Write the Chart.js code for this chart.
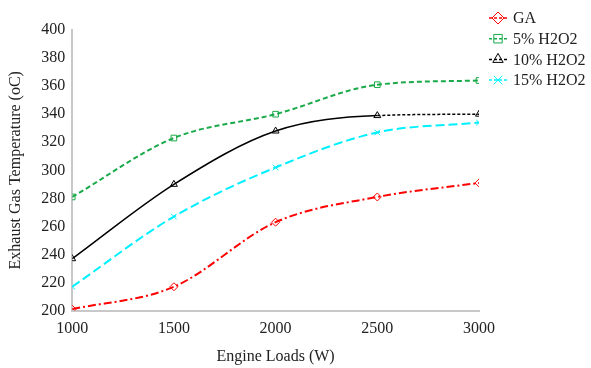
<!DOCTYPE html>
<html>
<head>
<meta charset="utf-8">
<script src="https://cdn.jsdelivr.net/npm/chart.js@4"></script>
<style>
  html, body { margin: 0; padding: 0; background: #fff; }
  #wrap { width: 591px; height: 368px; }
</style>
</head>
<body>
<div id="wrap"><canvas id="grafico"></canvas></div>
<script>
const cargas = [1000, 1500, 2000, 2500, 3000];
const ga = [201, 217, 263, 281, 291];
const h2o2_5 = [281, 323, 340, 361, 364];
const h2o2_10 = [237, 290, 328, 339, 340];
const h2o2_15 = [217, 267, 302, 327, 334];
const yTicks = [200, 220, 240, 260, 280, 300, 320, 340, 360, 380, 400];

const fuente = { family: '"Liberation Serif", "DejaVu Serif", serif', size: 16 };

function serie(nombre, valores, color, punto, guion) {
  return {
    label: nombre,
    data: cargas.map((x, i) => ({ x: x, y: valores[i] })),
    borderColor: color,
    backgroundColor: 'rgba(255,255,255,0)',
    borderWidth: 2,
    borderDash: guion,
    pointStyle: punto,
    pointRadius: 4,
    pointBorderWidth: 1,
    pointBorderColor: color,
    pointBackgroundColor: 'rgba(255,255,255,0)',
    cubicInterpolationMode: 'monotone',
    fill: false
  };
}

const datasets = [
  serie('GA', ga, '#ff0000', 'rectRot', [8, 3, 2, 3]),
  serie('5% H2O2', h2o2_5, '#1aaa4a', 'rect', [5, 3]),
  serie('10% H2O2', h2o2_10, '#000000', 'triangle', []),
  serie('15% H2O2', h2o2_15, '#00f0ff', 'crossRot', [9, 4])
];
// 10% H2O2: linea continua y luego guiones cortos
datasets[2].borderWidth = 1.5;
datasets[2].segment = { borderDash: ctx => ctx.p0DataIndex >= 3 ? [3, 2] : [] };

const leyenda = {
  id: 'leyenda',
  afterDraw(chart) {
    const c = chart.ctx;
    chart.data.datasets.forEach((ds, i) => {
      const y = 18 + i * 20.7;
      c.save();
      c.strokeStyle = ds.borderColor;
      c.fillStyle = 'rgba(255,255,255,0)';
      c.lineWidth = 1.5;
      c.setLineDash([3, 2]);
      c.beginPath();
      c.moveTo(489, y);
      c.lineTo(508, y);
      c.stroke();
      c.setLineDash([]);
      c.lineWidth = 1;
      Chart.helpers.drawPoint(c, { pointStyle: ds.pointStyle, radius: 6, borderWidth: 1 }, 498, y);
      c.restore();
      c.save();
      c.fillStyle = '#222';
      c.font = '16px "Liberation Serif", serif';
      c.textBaseline = 'middle';
      c.fillText(ds.label, 513, y + 1);
      c.restore();
    });
  }
};

const ctx = document.getElementById('grafico').getContext('2d');
new Chart(ctx, {
  type: 'line',
  data: { datasets: datasets },
  options: {
    responsive: true,
    maintainAspectRatio: false,
    animation: false,
    layout: { padding: { top: 30, right: 112, left: 6, bottom: 0 } },
    plugins: {
      legend: { display: false },
      tooltip: { enabled: false }
    },
    scales: {
      x: {
        type: 'linear',
        min: 1000,
        max: 3000,
        afterBuildTicks: axis => { axis.ticks = cargas.map(v => ({ value: v })); },
        grid: { display: false, drawTicks: true, tickLength: 5, tickColor: '#c8c8c8' },
        border: { color: '#c8c8c8', width: 2 },
        ticks: { color: '#222', font: fuente, padding: 4, maxRotation: 0, callback: v => String(v) },
        title: { display: true, text: 'Engine Loads (W)', color: '#222', font: fuente, padding: { top: 4, bottom: 2 } }
      },
      y: {
        min: 200,
        max: 400,
        afterBuildTicks: axis => { axis.ticks = yTicks.map(v => ({ value: v })); },
        grid: { display: false, drawTicks: true, tickLength: 5, tickColor: '#c8c8c8' },
        border: { color: '#c8c8c8', width: 2 },
        ticks: { color: '#222', font: fuente, padding: 2, callback: v => String(v) },
        title: { display: true, text: 'Exhaust Gas Temperature (oC)', color: '#222', font: fuente, padding: { top: 0, bottom: 14 } }
      }
    }
  },
  plugins: [leyenda]
});
</script>
</body>
</html>
